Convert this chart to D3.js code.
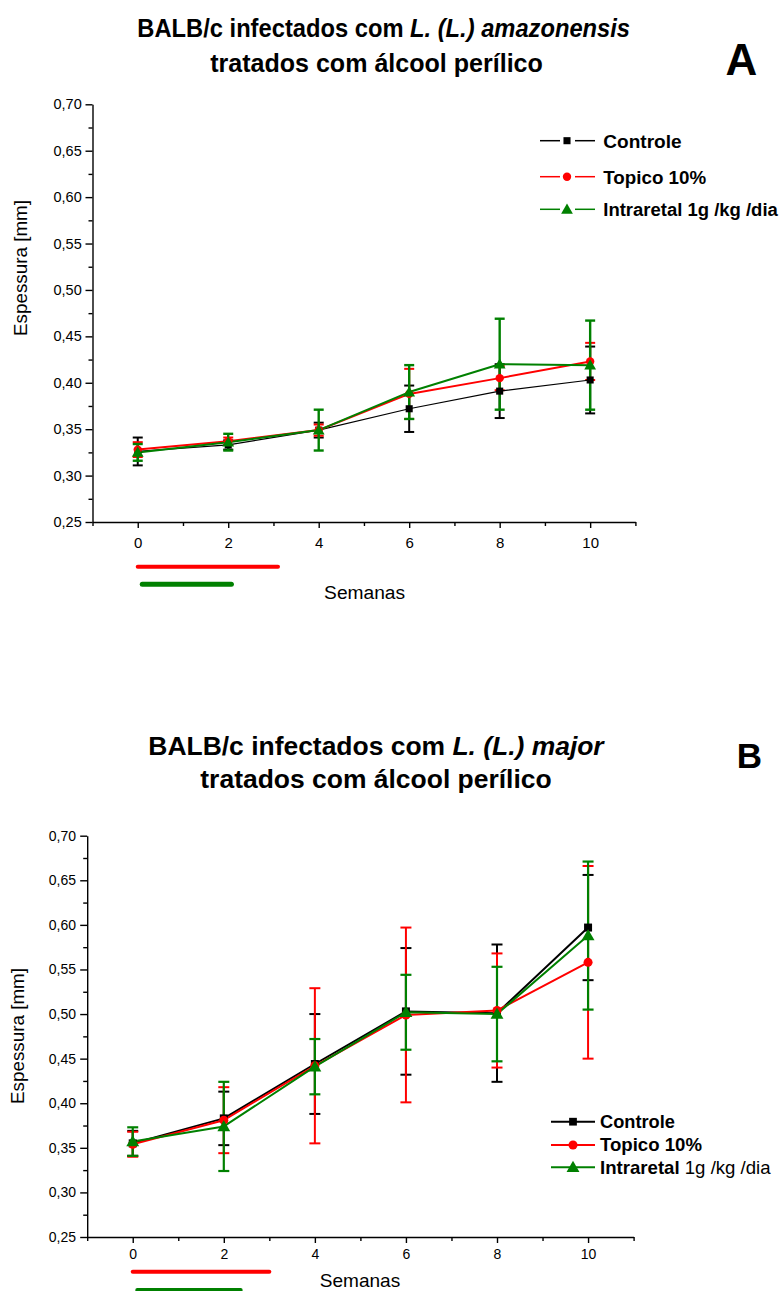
<!DOCTYPE html>
<html>
<head>
<meta charset="utf-8">
<script src="https://cdn.jsdelivr.net/npm/d3@7"></script>
<style>
  body { margin: 0; background: #fff; }
  svg { display: block; }
  text { font-family: "Liberation Sans", Arial, Helvetica, sans-serif; fill: #000; }
</style>
</head>
<body>
<svg id="fig" width="782" height="1291"></svg>
<script>
// ---- data -------------------------------------------------------------
const weeks = [0, 2, 4, 6, 8, 10];
const xTicks = [0, 2, 4, 6, 8, 10];
const xMinor = [-1, 1, 3, 5, 7, 9, 11];
const yTicks = [0.25, 0.30, 0.35, 0.40, 0.45, 0.50, 0.55, 0.60, 0.65, 0.70];
const yMinor = [0.275, 0.325, 0.375, 0.425, 0.475, 0.525, 0.575, 0.625, 0.675];
const seriesNames = ["Controle", "Topico 10%", "Intraretal"];
const doseLabel = "1g /kg /dia";

// L. (L.) amazonensis
const amazControle    = [0.326, 0.333, 0.349, 0.372, 0.391, 0.403];
const amazControleErr = [0.015, 0.005, 0.008, 0.025, 0.029, 0.036];
const amazTopico      = [0.328, 0.337, 0.349, 0.388, 0.405, 0.423];
const amazTopicoErr   = [0.008, 0.004, 0.006, 0.027, 0.013, 0.020];
const amazIntra       = [0.325, 0.336, 0.349, 0.390, 0.420, 0.419];
const amazIntraErr    = [0.009, 0.009, 0.022, 0.029, 0.049, 0.048];
// treatment periods (weeks): topical, intrarectal
const amazTreat = [[0, 3.1], [0.1, 2.07]];

// L. (L.) major
const majorControle    = [0.355, 0.383, 0.444, 0.503, 0.501, 0.597];
const majorControleErr = [0.014, 0.030, 0.056, 0.071, 0.077, 0.059];
const majorTopico      = [0.354, 0.381, 0.442, 0.499, 0.504, 0.558];
const majorTopicoErr   = [0.014, 0.037, 0.087, 0.098, 0.064, 0.108];
const majorIntra       = [0.357, 0.374, 0.441, 0.502, 0.500, 0.588];
const majorIntraErr    = [0.016, 0.050, 0.031, 0.042, 0.053, 0.083];
const majorTreat = [[0, 3.0], [0.1, 2.37]];

// ---- drawing ----------------------------------------------------------
const svg = d3.select("#fig");
const COLORS = ["#000000", "#ff0000", "#008000"];
const SYMBOLS = [d3.symbolSquare, d3.symbolCircle, d3.symbolTriangle];
const commaFmt = v => d3.format(".2f")(v).replace(".", ",");

// place a text element inside a group and stretch it horizontally to a given width
function fitted(parent, transform, width, build) {
  const g = parent.append("g");
  const t = g.append("text");
  build(t);
  const w = t.node().getBBox().width;
  const k = width / w;
  g.attr("transform", transform + ` scale(${k},1)`);
  return t;
}

function drawPanel(p) {
  const root = svg.append("g");
  const x = d3.scaleLinear().domain([-1, 11]).range([p.x0, p.x1]);
  const y = d3.scaleLinear().domain([0.25, 0.70]).range([p.yBottom, p.yTop]);

  // titles
  fitted(root, `translate(${p.t1.cx},${p.t1.by})`, p.t1.w, t => {
    t.attr("text-anchor", "middle").attr("font-weight", "bold").attr("font-size", p.titleSize);
    t.append("tspan").text("BALB/c infectados com ");
    t.append("tspan").attr("font-style", "italic").text("L. (L.) " + p.species);
  });
  fitted(root, `translate(${p.t2.cx},${p.t2.by})`, p.t2.w, t => {
    t.attr("text-anchor", "middle").attr("font-weight", "bold").attr("font-size", p.titleSize)
      .text("tratados com álcool perílico");
  });
  root.append("text")
    .attr("x", p.letter.cx).attr("y", p.letter.by)
    .attr("text-anchor", "middle").attr("font-weight", "bold")
    .attr("font-size", p.letter.size).text(p.letter.txt);

  // axes
  const yAxis = d3.axisLeft(y).tickValues(yTicks).tickFormat(commaFmt)
    .tickSize(7).tickSizeOuter(0).tickPadding(p.yPad);
  const gy = root.append("g").attr("transform", `translate(${p.x0},0)`).call(yAxis);
  gy.selectAll("text").attr("font-size", p.tickSize).attr("font-family", "Liberation Sans, Arial, sans-serif");
  root.append("g").attr("transform", `translate(${p.x0},0)`)
    .call(d3.axisLeft(y).tickValues(yMinor).tickFormat("").tickSize(4).tickSizeOuter(0))
    .select(".domain").remove();

  const xAxis = d3.axisBottom(x).tickValues(xTicks).tickFormat(d3.format("d"))
    .tickSize(6).tickSizeOuter(0).tickPadding(p.xPad);
  const gx = root.append("g").attr("transform", `translate(0,${p.yBottom})`).call(xAxis);
  gx.selectAll("text").attr("font-size", p.xTickSize).attr("font-family", "Liberation Sans, Arial, sans-serif");
  root.append("g").attr("transform", `translate(0,${p.yBottom})`)
    .call(d3.axisBottom(x).tickValues(xMinor).tickFormat("").tickSize(4).tickSizeOuter(0))
    .select(".domain").remove();
  root.selectAll(".domain, .tick line").attr("stroke", "#000").attr("stroke-width", 1.4);

  // axis titles
  fitted(root, `translate(${p.ylab.cx},${p.ylab.cy}) rotate(-90)`, p.ylab.len, t => {
    t.attr("text-anchor", "middle").attr("dy", "0.35em").attr("font-size", p.ylab.size)
      .text("Espessura [mm]");
  });
  fitted(root, `translate(${p.xlab.cx},${p.xlab.by})`, p.xlab.w, t => {
    t.attr("text-anchor", "middle").attr("font-size", p.xlab.size).text("Semanas");
  });

  // treatment period bars
  p.treat.forEach((d, i) => {
    root.append("line")
      .attr("x1", x(d[0])).attr("x2", x(d[1]))
      .attr("y1", p.treatY[i]).attr("y2", p.treatY[i])
      .attr("stroke", COLORS[i + 1]).attr("stroke-width", p.treatW[i]).attr("stroke-linecap", "round");
  });

  const series = p.series.map((s, i) => ({
    i, pts: weeks.map((w, j) => ({ w, v: s.mean[j], e: s.err[j] }))
  }));

  // error bars
  series.forEach(s => {
    const g = root.append("g").attr("stroke", COLORS[s.i]).attr("stroke-width", p.errW[s.i]);
    s.pts.forEach(d => {
      const cx = x(d.w);
      g.append("line").attr("x1", cx).attr("x2", cx).attr("y1", y(d.v - d.e)).attr("y2", y(d.v + d.e));
      [d.v - d.e, d.v + d.e].forEach(v => {
        g.append("line").attr("x1", cx - p.cap).attr("x2", cx + p.cap).attr("y1", y(v)).attr("y2", y(v));
      });
    });
  });

  // lines
  const line = d3.line().x(d => x(d.w)).y(d => y(d.v));
  series.forEach(s => {
    root.append("path").datum(s.pts).attr("d", line)
      .attr("fill", "none").attr("stroke", COLORS[s.i]).attr("stroke-width", p.lineW[s.i])
      .attr("stroke-linejoin", "round");
  });

  // markers
  series.forEach(s => {
    const sym = d3.symbol().type(SYMBOLS[s.i]).size(p.symSize[s.i]);
    root.append("g").selectAll("path").data(s.pts).join("path")
      .attr("d", sym).attr("fill", COLORS[s.i])
      .attr("transform", d => `translate(${x(d.w)},${y(d.v) + (s.i === 2 ? 1 : 0)})`);
  });

  // legend
  seriesNames.forEach((name, i) => {
    const ly = p.leg.rows[i];
    const g = root.append("g");
    p.leg.segs.forEach(sg => {
      g.append("line").attr("x1", sg[0]).attr("x2", sg[1]).attr("y1", ly).attr("y2", ly)
        .attr("stroke", COLORS[i]).attr("stroke-width", p.leg.lw);
    });
    g.append("path").attr("d", d3.symbol().type(SYMBOLS[i]).size(p.leg.sym[i])())
      .attr("fill", COLORS[i]).attr("transform", `translate(${p.leg.mx},${ly + (i === 2 ? 1 : 0)})`);
    fitted(root, `translate(${p.leg.tx},${ly})`, p.leg.widths[i], t => {
      t.attr("dy", "0.36em").attr("font-size", p.leg.size).attr("font-weight", "bold");
      t.append("tspan").text(name);
      if (i === 2) {
        t.append("tspan").attr("font-weight", p.leg.doseBold ? "bold" : "normal").text(" " + doseLabel);
      }
    });
  });
}

drawPanel({
  species: "amazonensis",
  x0: 92.5, x1: 635.4, yTop: 104.3, yBottom: 522,
  titleSize: 25,
  t1: { cx: 383.7, by: 36.7, w: 493 },
  t2: { cx: 376.5, by: 71.7, w: 333 },
  letter: { cx: 741.5, by: 75, size: 44, txt: "A" },
  tickSize: 14.5, xTickSize: 15, yPad: 3.8, xPad: 9.4,
  ylab: { cx: 20, cy: 268, len: 136, size: 19 },
  xlab: { cx: 364.6, by: 599, w: 81, size: 19 },
  treat: amazTreat, treatY: [566.7, 584.3], treatW: [4, 5],
  series: [
    { mean: amazControle, err: amazControleErr },
    { mean: amazTopico, err: amazTopicoErr },
    { mean: amazIntra, err: amazIntraErr }
  ],
  errW: [2, 2, 2.4], lineW: [1.2, 2, 2], cap: 5, symSize: [50, 55, 60],
  leg: {
    rows: [140.7, 176.7, 209.3], segs: [[540, 560], [575, 595]], mx: 567, lw: 1.5,
    sym: [50, 55, 60], tx: 603.3, widths: [78.3, 103, 175], size: 19, doseBold: true
  }
});

drawPanel({
  species: "major",
  x0: 87.2, x1: 633.6, yTop: 835.7, yBottom: 1237,
  titleSize: 25,
  t1: { cx: 376, by: 755, w: 457 },
  t2: { cx: 376, by: 788.3, w: 351.5 },
  letter: { cx: 749.5, by: 768, size: 35, txt: "B" },
  tickSize: 14, xTickSize: 14, yPad: 4.2, xPad: 6,
  ylab: { cx: 17.5, cy: 1036, len: 136, size: 19 },
  xlab: { cx: 360, by: 1287, w: 80.5, size: 18 },
  treat: majorTreat, treatY: [1271.7, 1290], treatW: [4, 4],
  series: [
    { mean: majorControle, err: majorControleErr },
    { mean: majorTopico, err: majorTopicoErr },
    { mean: majorIntra, err: majorIntraErr }
  ],
  errW: [2, 2, 2.2], lineW: [2, 2, 2], cap: 5.5, symSize: [64, 64, 72],
  leg: {
    rows: [1121.7, 1145, 1167.3], segs: [[551, 595]], mx: 573, lw: 2,
    sym: [60, 64, 72], tx: 600, widths: [75, 102, 171.7], size: 18, doseBold: false
  }
});
</script>
</body>
</html>
